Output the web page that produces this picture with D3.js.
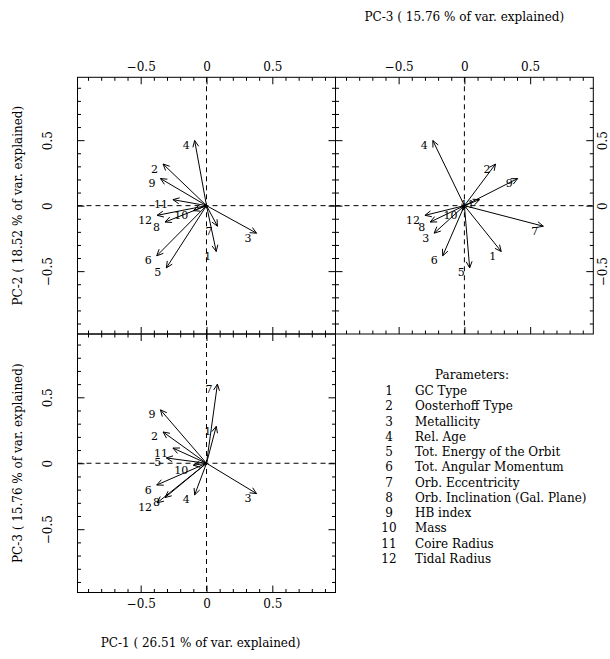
<!DOCTYPE html>
<html>
<head>
<meta charset="utf-8">
<script src="https://cdn.jsdelivr.net/npm/d3@7"></script>
<style>
  body { margin: 0; background: #fff; }
  svg text { font-family: "DejaVu Serif", serif; fill: #000; }
</style>
</head>
<body>
<script>
// Parameter numbering and names (legend)
const paramIds = [1, 2, 3, 4, 5, 6, 7, 8, 9, 10, 11, 12];
const paramNames = [
  "GC Type", "Oosterhoff Type", "Metallicity", "Rel. Age",
  "Tot. Energy of the Orbit", "Tot. Angular Momentum", "Orb. Eccentricity",
  "Orb. Inclination (Gal. Plane)", "HB index", "Mass", "Coire Radius", "Tidal Radius"
];

// Loadings of each parameter on the first three principal components
const pc1 = [0.074, -0.33, 0.38, -0.09, -0.305, -0.378, 0.083, -0.315, -0.35, -0.10, -0.255, -0.375];
const pc2 = [-0.35, 0.318, -0.21, 0.497, -0.475, -0.383, -0.157, -0.125, 0.207, -0.038, 0.046, -0.074];
const pc3 = [0.28, 0.237, -0.23, -0.24, 0.04, -0.165, 0.60, -0.26, 0.405, -0.015, 0.115, -0.30];

// Components and their share of explained variance
const pcNames = ["PC-1", "PC-2", "PC-3"];
const pcVariance = [26.51, 18.52, 15.76];

// Axis ticks
const majorTicks = [-0.5, 0, 0.5];
const minorTicks = [-0.9, -0.8, -0.7, -0.6, -0.4, -0.3, -0.2, -0.1, 0.1, 0.2, 0.3, 0.4, 0.6, 0.7, 0.8, 0.9];
const tickLabels = ["\u22120.5", "0", "0.5"];
const axisExtent = [-0.98, 0.98];

const W = 610, H = 659;
const svg = d3.select("body").append("svg")
  .attr("width", W).attr("height", H)
  .attr("viewBox", `0 0 ${W} ${H}`);

const FS = 12;      // titles, ticks, legend
const FS_ID = 11;   // vector numbers inside the panels
const axisTitle = i => `${pcNames[i]} ( ${pcVariance[i].toFixed(2)} % of var. explained)`;
const fmtTick = v => tickLabels[majorTicks.indexOf(v)];

const L = 77.5, M = 335.5, R = 593.3;
const T = 77.3, MID = 334, B = 592.5;

const panels = [
  { xr: [L, M], yr: [MID, T], xs: pc1, ys: pc2, sides: { top: true, left: true } },
  { xr: [M, R], yr: [MID, T], xs: pc3, ys: pc2, sides: { top: true, right: true } },
  { xr: [L, M], yr: [B, MID], xs: pc1, ys: pc3, sides: { bottom: true, left: true } }
];

const MAJ = 7, MIN = 3.5;

function drawAxis(g, axisFn, scale, translate, labelled, labelStyle) {
  // minor ticks
  g.append("g").attr("transform", translate)
    .call(axisFn(scale).tickValues(minorTicks).tickSize(-MIN).tickFormat(""))
    .call(a => a.select(".domain").remove());
  // major ticks (+ labels)
  const ax = g.append("g").attr("transform", translate)
    .call(axisFn(scale).tickValues(majorTicks).tickSize(-MAJ)
      .tickFormat(labelled ? fmtTick : ""))
    .call(a => a.select(".domain").remove());
  ax.selectAll("text").attr("font-family", null).attr("font-size", FS).attr("fill", "#000");
  if (labelled) labelStyle(ax.selectAll("text"));
  g.selectAll(".tick line").attr("stroke", "#000").attr("stroke-width", 1);
}

panels.forEach(p => {
  const x = d3.scaleLinear().domain(axisExtent).range(p.xr);
  const y = d3.scaleLinear().domain(axisExtent).range(p.yr);
  const g = svg.append("g");

  // zero lines
  g.append("line").attr("x1", x(0)).attr("x2", x(0)).attr("y1", p.yr[1]).attr("y2", p.yr[0])
    .attr("stroke", "#000").attr("stroke-width", 1).attr("stroke-dasharray", "5,4");
  g.append("line").attr("x1", p.xr[0]).attr("x2", p.xr[1]).attr("y1", y(0)).attr("y2", y(0))
    .attr("stroke", "#000").attr("stroke-width", 1).attr("stroke-dasharray", "5,4");

  // ticks on all four sides, pointing inward
  drawAxis(g, d3.axisTop, x, `translate(0,${p.yr[1]})`, !!p.sides.top,
    t => t.attr("y", -6).attr("dy", "0"));
  drawAxis(g, d3.axisBottom, x, `translate(0,${p.yr[0]})`, !!p.sides.bottom,
    t => t.attr("y", 15).attr("dy", "0"));
  drawAxis(g, d3.axisLeft, y, `translate(${p.xr[0]},0)`, !!p.sides.left,
    t => t.attr("x", null).attr("dy", null).attr("text-anchor", "middle")
      .attr("transform", "translate(-25.5,0) rotate(-90)"));
  drawAxis(g, d3.axisRight, y, `translate(${p.xr[1]},0)`, !!p.sides.right,
    t => t.attr("x", null).attr("dy", null).attr("text-anchor", "middle")
      .attr("transform", "translate(13.7,0) rotate(-90)"));

  // frame
  g.append("rect").attr("x", p.xr[0]).attr("y", p.yr[1])
    .attr("width", p.xr[1] - p.xr[0]).attr("height", p.yr[0] - p.yr[1])
    .attr("fill", "none").attr("stroke", "#000").attr("stroke-width", 1);

  // loading vectors with open arrowheads, numbered at the tip
  const ox = x(0), oy = y(0);
  const head = 7, ang = 25 * Math.PI / 180;
  paramIds.forEach((id, i) => {
    const tx = x(p.xs[i]), ty = y(p.ys[i]);
    const a = Math.atan2(ty - oy, tx - ox);
    const path = d3.path();
    path.moveTo(ox, oy); path.lineTo(tx, ty);
    path.moveTo(tx - head * Math.cos(a - ang), ty - head * Math.sin(a - ang));
    path.lineTo(tx, ty);
    path.lineTo(tx - head * Math.cos(a + ang), ty - head * Math.sin(a + ang));
    g.append("path").attr("d", path.toString())
      .attr("fill", "none").attr("stroke", "#000").attr("stroke-width", 1)
      .attr("stroke-linejoin", "miter");
    g.append("text").attr("x", tx - 5).attr("y", ty + 8.5)
      .attr("text-anchor", "end").attr("font-size", FS_ID).text(id);
  });
});

// axis titles
svg.append("text").attr("x", (M + R) / 2).attr("y", 21).attr("text-anchor", "middle")
  .attr("font-size", FS).text(axisTitle(2));
svg.append("text").attr("x", (L + M) / 2 - 6).attr("y", 647).attr("text-anchor", "middle")
  .attr("font-size", FS).text(axisTitle(0));
svg.append("text").attr("transform", `translate(22,${(T + MID) / 2}) rotate(-90)`)
  .attr("text-anchor", "middle").attr("font-size", FS).text(axisTitle(1));
svg.append("text").attr("transform", `translate(22,${(MID + B) / 2}) rotate(-90)`)
  .attr("text-anchor", "middle").attr("font-size", FS).text(axisTitle(2));

// legend
const lg = svg.append("g");
lg.append("text").attr("x", 435).attr("y", 379).attr("font-size", FS).text("Parameters:");
const rowY = d3.scaleLinear().domain([1, 12]).range([395, 563]);
paramIds.forEach((id, i) => {
  lg.append("text").attr("x", 389).attr("y", rowY(id)).attr("text-anchor", "middle")
    .attr("font-size", FS).text(id);
  lg.append("text").attr("x", 415).attr("y", rowY(id)).attr("font-size", FS).text(paramNames[i]);
});
</script>
</body>
</html>
